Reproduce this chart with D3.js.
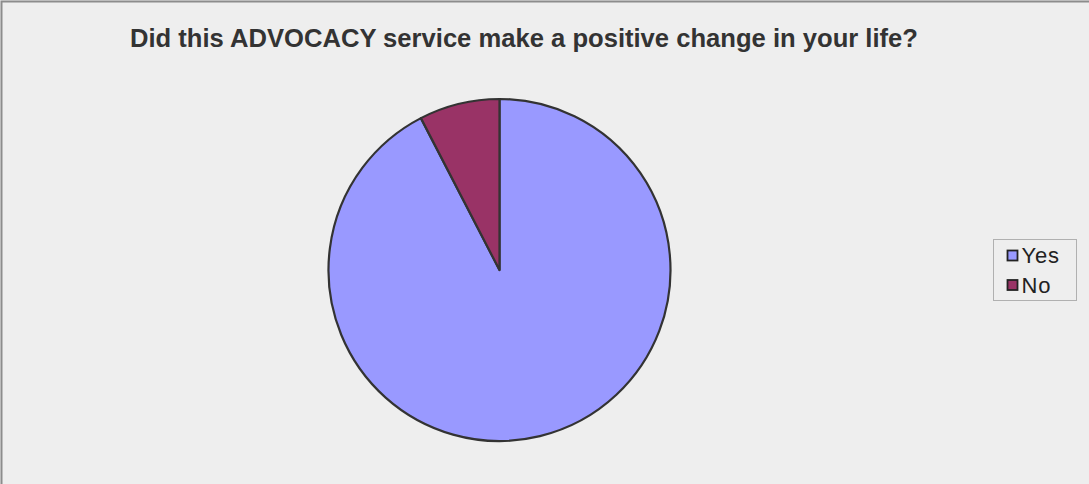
<!DOCTYPE html>
<html><head><meta charset="utf-8">
<script src="https://cdn.jsdelivr.net/npm/d3@7"></script>
<style>html,body{margin:0;padding:0;background:#eeeeee;overflow:hidden}</style>
</head><body>
<script>
const categories = ["Yes", "No"];
const values = [92.4, 7.6];
const colors = ["#9999FF", "#993366"];
const title = "Did this ADVOCACY service make a positive change in your life?";

const W = 1089, H = 484;
const svg = d3.select("body").append("svg").attr("width", W).attr("height", H);
svg.append("rect").attr("x", 0).attr("y", 0).attr("width", W).attr("height", H).attr("fill", "#eeeeee");
svg.append("rect").attr("x", 1.5).attr("y", 1.5).attr("width", W + 10).attr("height", H + 10)
  .attr("fill", "none").attr("stroke", "#8c8c8c").attr("stroke-width", 2);

svg.append("text").attr("x", 130).attr("y", 47)
  .attr("font-family", "Liberation Sans, Arial, sans-serif").attr("font-weight", "bold")
  .attr("font-size", 25.6).attr("fill", "#333333").text(title);

const cx = 499.5, cy = 270, r = 171;
const data = categories.map((c, i) => ({ c, v: values[i], col: colors[i] }));
const arcs = d3.pie().sort(null).value(d => d.v)(data);
const arc = d3.arc().innerRadius(0).outerRadius(r);
const g = svg.append("g").attr("transform", `translate(${cx},${cy})`);
g.selectAll("path").data(arcs).enter().append("path")
  .attr("d", arc).attr("fill", d => d.data.col)
  .attr("stroke", "#333333").attr("stroke-width", 2.2).attr("stroke-linejoin", "round");

// legend
const lg = svg.append("g");
lg.append("rect").attr("x", 993.5).attr("y", 239.5).attr("width", 83).attr("height", 61)
  .attr("fill", "#eeeeee").attr("stroke", "#b0b0b0").attr("stroke-width", 1);
data.forEach((d, i) => {
  const y = 250 + i * 29.5;
  lg.append("rect").attr("x", 1007.5).attr("y", y + 0.5).attr("width", 10).attr("height", 10)
    .attr("fill", d.col).attr("stroke", "#222").attr("stroke-width", 1.8);
  lg.append("text").attr("x", 1021.5).attr("y", y + 13)
    .attr("font-family", "Liberation Sans, Arial, sans-serif").attr("font-size", 22)
    .attr("letter-spacing", 0.8)
    .attr("fill", "#222").text(d.c);
});
</script>
</body></html>
